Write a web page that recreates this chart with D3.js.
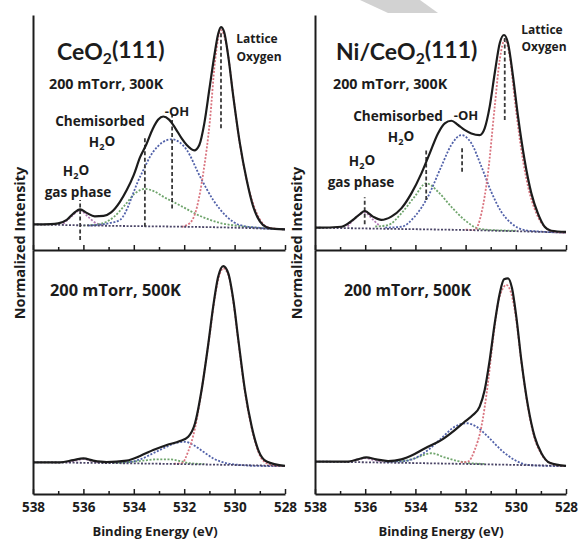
<!DOCTYPE html>
<html>
<head>
<meta charset="utf-8">
<script src="https://cdn.jsdelivr.net/npm/d3@7"></script>
<style>
  body { margin: 0; background: #fff; }
  svg text { font-family: "Open Sans", Lato, sans-serif; font-weight: 700; fill: #1c1c1c; }
</style>
</head>
<body>
<svg id="chart" width="578" height="540"></svg>
<script>
// binding energy (eV), normalized intensity (0 = panel bottom, 1 = panel top)

// --- CeO2(111), 300K ---
const tlTotal = [
  [538.0, 0.109], [537.3, 0.110], [537.0, 0.113], [536.66, 0.128], [536.4, 0.155],
  [536.13, 0.173], [535.87, 0.158], [535.55, 0.143], [535.2, 0.145], [534.9, 0.160],
  [534.55, 0.205], [534.28, 0.255], [534.0, 0.320], [533.75, 0.395], [533.5, 0.450],
  [533.25, 0.515], [533.03, 0.555], [532.83, 0.568], [532.6, 0.555], [532.35, 0.518],
  [532.1, 0.475], [531.9, 0.447], [531.6, 0.424], [531.4, 0.447], [531.2, 0.540],
  [531.0, 0.685], [530.8, 0.830], [530.65, 0.920], [530.54, 0.948], [530.42, 0.929],
  [530.25, 0.823], [530.05, 0.652], [529.79, 0.454], [529.52, 0.298], [529.26, 0.184],
  [528.99, 0.121], [528.73, 0.097], [528.4, 0.090], [528.0, 0.088]
];
const tlGas = [[536.8, 0.111], [536.5, 0.140], [536.13, 0.168], [535.8, 0.140], [535.5, 0.114], [535.2, 0.106]];
const tlChem = [
  [536.0, 0.104], [535.3, 0.112], [534.8, 0.140], [534.36, 0.190], [533.96, 0.240],
  [533.56, 0.260], [533.2, 0.250], [532.8, 0.225], [532.17, 0.190], [531.37, 0.145],
  [530.58, 0.115], [529.8, 0.102], [528.0, 0.088]
];
const tlOH = [
  [535.8, 0.104], [535.34, 0.108], [534.94, 0.115], [534.55, 0.128], [533.75, 0.312],
  [533.23, 0.418], [532.5, 0.471], [531.9, 0.426], [531.37, 0.312], [530.85, 0.213],
  [530.31, 0.142], [529.79, 0.106], [528.99, 0.094], [528.0, 0.088]
];
const tlLattice = [
  [532.1, 0.099], [531.77, 0.115], [531.5, 0.180], [531.24, 0.330], [530.98, 0.550],
  [530.78, 0.800], [530.54, 0.936], [530.31, 0.865], [530.05, 0.652], [529.79, 0.450],
  [529.46, 0.270], [529.12, 0.156], [528.73, 0.099], [528.33, 0.090], [528.0, 0.088]
];
const tlBase = [[538.0, 0.109], [535.0, 0.103], [532.0, 0.099], [530.0, 0.095], [528.0, 0.088]];
const tlMarkers = [[536.13, 0.043, 0.213], [533.56, 0.099, 0.482], [532.48, 0.177, 0.574], [530.54, 0.518, 0.922]];

// --- Ni/CeO2(111), 300K ---
const trTotal = [
  [538.0, 0.095], [537.88, 0.095], [536.95, 0.099], [536.49, 0.128], [536.22, 0.152],
  [536.02, 0.166], [535.69, 0.142], [535.36, 0.128], [534.96, 0.142], [534.56, 0.177],
  [534.16, 0.241], [533.76, 0.326], [533.43, 0.411], [533.10, 0.496], [532.83, 0.539],
  [532.57, 0.550], [532.30, 0.532], [532.04, 0.511], [531.77, 0.496], [531.44, 0.489],
  [531.24, 0.518], [531.04, 0.610], [530.84, 0.752], [530.64, 0.880], [530.47, 0.915],
  [530.31, 0.880], [530.11, 0.738], [529.91, 0.567], [529.65, 0.383], [529.38, 0.241],
  [529.12, 0.156], [528.85, 0.099], [528.59, 0.082], [528.0, 0.077]
];
const trGas = [[536.7, 0.100], [536.4, 0.135], [536.02, 0.160], [535.7, 0.130], [535.4, 0.100]];
const trChem = [
  [535.6, 0.100], [535.09, 0.106], [534.56, 0.156], [534.03, 0.227], [533.57, 0.284],
  [533.10, 0.248], [532.57, 0.184], [532.04, 0.128], [531.51, 0.092], [530.98, 0.085], [530.0, 0.082]
];
const trOH = [
  [535.2, 0.095], [534.56, 0.099], [534.03, 0.142], [533.50, 0.227], [532.97, 0.355],
  [532.57, 0.447], [532.17, 0.489], [531.77, 0.454], [531.37, 0.355], [530.98, 0.248],
  [530.58, 0.163], [530.18, 0.114], [529.65, 0.085], [528.98, 0.078], [528.0, 0.074]
];
const trLattice = [
  [532.0, 0.087], [531.64, 0.085], [531.37, 0.156], [531.11, 0.326], [530.84, 0.610],
  [530.64, 0.809], [530.44, 0.894], [530.24, 0.823], [530.04, 0.638], [529.78, 0.426],
  [529.51, 0.269], [529.18, 0.156], [528.85, 0.099], [528.45, 0.078], [528.0, 0.074]
];
const trBase = [[538.0, 0.095], [535.0, 0.090], [532.0, 0.085], [530.0, 0.080], [528.0, 0.074]];
const trMarkers = [[536.02, 0.110, 0.224], [533.57, 0.213, 0.429], [532.14, 0.333, 0.440], [530.44, 0.553, 0.915]];

// --- CeO2(111), 500K ---
const blTotal = [
  [538.0, 0.130], [536.93, 0.130], [536.40, 0.139], [536.00, 0.146], [535.61, 0.137],
  [535.08, 0.131], [534.28, 0.137], [533.75, 0.156], [533.23, 0.180], [532.69, 0.201],
  [532.17, 0.217], [531.84, 0.235], [531.57, 0.290], [531.31, 0.426], [531.04, 0.618],
  [530.85, 0.768], [530.65, 0.891], [530.45, 0.934], [530.25, 0.904], [530.05, 0.795],
  [529.85, 0.631], [529.59, 0.426], [529.32, 0.276], [529.06, 0.180], [528.73, 0.133],
  [528.0, 0.115]
];
const blGas = [[536.6, 0.130], [536.3, 0.137], [536.0, 0.143], [535.7, 0.136], [535.4, 0.130]];
const blChem = [[534.8, 0.128], [534.28, 0.130], [533.62, 0.137], [533.09, 0.142], [532.56, 0.142], [532.17, 0.135], [531.77, 0.126], [531.2, 0.123]];
const blOH = [
  [535.0, 0.129], [534.28, 0.130], [533.75, 0.142], [533.23, 0.167], [532.69, 0.194],
  [532.30, 0.210], [531.97, 0.214], [531.64, 0.201], [531.24, 0.173], [530.85, 0.146],
  [530.31, 0.126], [529.79, 0.119], [528.99, 0.115], [528.0, 0.114]
];
const blLattice = [
  [532.4, 0.124], [532.10, 0.126], [531.84, 0.175], [531.57, 0.270], [531.37, 0.385],
  [531.17, 0.522], [530.98, 0.659], [530.78, 0.809], [530.58, 0.904], [530.45, 0.925],
  [530.25, 0.898], [530.05, 0.788], [529.85, 0.624], [529.59, 0.419], [529.32, 0.269],
  [529.06, 0.173], [528.73, 0.126], [528.33, 0.116], [528.0, 0.115]
];
const blBase = [[538.0, 0.130], [533.0, 0.124], [528.0, 0.115]];

// --- Ni/CeO2(111), 500K ---
const brTotal = [
  [538.0, 0.133], [537.95, 0.133], [536.69, 0.133], [536.29, 0.142], [535.96, 0.150],
  [535.56, 0.142], [535.09, 0.135], [534.56, 0.142], [534.03, 0.164], [533.50, 0.194],
  [532.97, 0.221], [532.43, 0.262], [532.04, 0.296], [531.71, 0.324], [531.44, 0.358],
  [531.24, 0.426], [531.04, 0.549], [530.84, 0.699], [530.64, 0.822], [530.47, 0.880],
  [530.31, 0.884], [530.15, 0.843], [529.98, 0.727], [529.78, 0.549], [529.51, 0.358],
  [529.25, 0.235], [528.98, 0.167], [528.65, 0.128], [528.0, 0.115]
];
const brGas = [[536.6, 0.134], [536.3, 0.141], [536.0, 0.147], [535.7, 0.140], [535.3, 0.133]];
const brChem = [[535.1, 0.133], [534.56, 0.134], [534.03, 0.146], [533.37, 0.167], [532.83, 0.150], [532.30, 0.135], [531.77, 0.126], [531.2, 0.123]];
const brOH = [
  [535.2, 0.133], [534.56, 0.134], [534.03, 0.146], [533.50, 0.180], [532.97, 0.228],
  [532.43, 0.276], [531.97, 0.290], [531.57, 0.276], [531.11, 0.235], [530.58, 0.180],
  [530.04, 0.139], [529.51, 0.119], [528.69, 0.115], [528.0, 0.114]
];
const brLattice = [
  [532.2, 0.130], [531.90, 0.133], [531.64, 0.180], [531.37, 0.276], [531.11, 0.454],
  [530.91, 0.631], [530.71, 0.781], [530.51, 0.843], [530.38, 0.857], [530.18, 0.822],
  [529.98, 0.713], [529.78, 0.542], [529.51, 0.351], [529.25, 0.228], [528.98, 0.164],
  [528.65, 0.128], [528.05, 0.115], [528.0, 0.115]
];
const brBase = [[538.0, 0.133], [533.0, 0.125], [528.0, 0.115]];

const xTickValues = d3.range(528, 539);
const xTickLabels = [538, 536, 534, 532, 530, 528];
const sampleTitles = ["CeO|2|(111)", "Ni/CeO|2|(111)"];
const conditionLabels = ["200 mTorr, 300K", "200 mTorr, 500K"];

const COLORS = {
  total: "#1c1c1c",
  gas: "#b27bb5",
  chem: "#6fa56c",
  oh: "#5161a9",
  lattice: "#d9747f",
  base: "#4a4466",
  marker: "#3a3a3a",
};

// layout
const COLS = [{ x0: 33, x1: 285 }, { x0: 315, x1: 566 }];
const ROWS = [{ y0: 15, y1: 250 }, { y0: 250, y1: 494 }];

const svg = d3.select("#chart");

// faint watermark wedge in the original scan
svg.append("polygon")
  .attr("points", "360,0 420,0 438,13 388,13")
  .attr("fill", "#d2d2d2");

const panels = [
  { col: 0, row: 0, total: tlTotal, gas: tlGas, chem: tlChem, oh: tlOH, lattice: tlLattice, base: tlBase, markers: tlMarkers },
  { col: 1, row: 0, total: trTotal, gas: trGas, chem: trChem, oh: trOH, lattice: trLattice, base: trBase, markers: trMarkers },
  { col: 0, row: 1, total: blTotal, gas: blGas, chem: blChem, oh: blOH, lattice: blLattice, base: blBase, markers: [] },
  { col: 1, row: 1, total: brTotal, gas: brGas, chem: brChem, oh: brOH, lattice: brLattice, base: brBase, markers: [] },
];

// text with optional subscripts, written as "H|2|O"
function richText(sel, str) {
  const parts = str.split("|");
  parts.forEach((s, i) => {
    if (i % 2 === 1) {
      sel.append("tspan").attr("font-size", "68%").attr("dy", "0.28em").text(s);
    } else {
      sel.append("tspan").attr("dy", i > 0 ? "-0.28em" : null).text(s);
    }
  });
}

function drawPanel(p) {
  const c = COLS[p.col];
  const r = ROWS[p.row];
  const x = d3.scaleLinear().domain([538, 528]).range([c.x0, c.x1]);
  const y = d3.scaleLinear().domain([0, 1]).range([r.y1, r.y0]);
  const g = svg.append("g");

  const smooth = d3.line()
    .x((d) => x(d[0]))
    .y((d) => y(d[1]))
    .curve(d3.curveMonotoneX);

  // fitted components
  ["gas", "chem", "oh", "lattice"].forEach((k) => {
    g.append("path")
      .attr("d", smooth(p[k]))
      .attr("fill", "none")
      .attr("stroke", COLORS[k])
      .attr("stroke-width", 1.8)
      .attr("stroke-dasharray", "2 1.6");
  });

  g.append("path")
    .attr("d", smooth(p.base))
    .attr("fill", "none")
    .attr("stroke", COLORS.base)
    .attr("stroke-width", 1.8)
    .attr("stroke-dasharray", "2 1.6");

  // peak position markers
  g.selectAll(".marker")
    .data(p.markers)
    .join("line")
    .attr("class", "marker")
    .attr("x1", (d) => x(d[0]))
    .attr("x2", (d) => x(d[0]))
    .attr("y1", (d) => y(d[1]))
    .attr("y2", (d) => y(d[2]))
    .attr("stroke", COLORS.marker)
    .attr("stroke-width", 1.8)
    .attr("stroke-dasharray", "4 2.5");

  // measured spectrum
  g.append("path")
    .attr("d", smooth(p.total))
    .attr("fill", "none")
    .attr("stroke", COLORS.total)
    .attr("stroke-width", 2.2)
    .attr("stroke-linejoin", "round");

  // axes
  const xAxis = d3.axisBottom(x)
    .tickValues(xTickValues)
    .tickSizeInner(-5)
    .tickSizeOuter(0)
    .tickPadding(8)
    .tickFormat((d) => (p.row === 1 && xTickLabels.includes(d) ? d : ""));

  const ax = g.append("g")
    .attr("transform", `translate(0,${r.y1})`)
    .call(xAxis);
  ax.select(".domain").attr("stroke", "#1c1c1c").attr("stroke-width", 2);
  ax.selectAll(".tick line")
    .attr("stroke", "#1c1c1c")
    .attr("stroke-width", 1.5)
    .attr("y2", (d) => (d % 2 === 0 ? -5 : -3));
  ax.selectAll(".tick text")
    .attr("font-size", 13.5)
    .attr("font-family", "'Open Sans', sans-serif")
    .attr("font-weight", 700)
    .attr("fill", "#1c1c1c");

  const yAxis = d3.axisLeft(y).tickValues([]).tickSizeOuter(0);
  g.append("g")
    .attr("transform", `translate(${c.x0},0)`)
    .call(yAxis)
    .select(".domain")
    .attr("stroke", "#1c1c1c")
    .attr("stroke-width", 2);

  return { x, y };
}

panels.forEach(drawPanel);

// annotations
function label(txt, px, py, size, anchor, family) {
  const t = svg.append("text")
    .attr("x", px)
    .attr("y", py)
    .attr("font-size", size)
    .attr("text-anchor", anchor || "middle");
  if (family) t.style("font-family", family);
  richText(t, txt);
  return t;
}

// titles
label(sampleTitles[0], 57, 60, 23, "start", "Lato, sans-serif");
label(sampleTitles[1], 336, 60, 23, "start", "Lato, sans-serif");
label(conditionLabels[0], 49, 89, 14.3, "start");
label(conditionLabels[0], 333, 89, 14.3, "start");
label(conditionLabels[1], 50, 296, 16.4, "start");
label(conditionLabels[1], 344, 296, 15.9, "start");

// peak names, CeO2
label("Chemisorbed", 100, 126, 13.6);
label("H|2|O", 102, 147, 13.5);
label("-OH", 177, 116, 13);
label("H|2|O", 76, 176, 13.5);
label("gas phase", 78, 197, 13.6);
label("Lattice", 257, 43, 12);
label("Oxygen", 259, 61, 12);

// peak names, Ni/CeO2
label("Chemisorbed", 398, 121, 13.6);
label("H|2|O", 401, 142, 13.5);
label("-OH", 466, 120, 13);
label("H|2|O", 362, 166, 13.5);
label("gas phase", 361, 187, 13.6);
label("Lattice", 542, 34, 12);
label("Oxygen", 544, 51, 12);

// axis titles
label("Binding Energy (eV)", 155, 536, 13);
label("Binding Energy (eV)", 441, 536, 13);
[19.5, 297].forEach((px) => {
  svg.append("text")
    .attr("transform", `translate(${px},243) rotate(-90)`)
    .attr("text-anchor", "middle")
    .attr("dy", "0.35em")
    .attr("font-size", 14.5)
    .text("Normalized Intensity");
});
</script>
</body>
</html>
